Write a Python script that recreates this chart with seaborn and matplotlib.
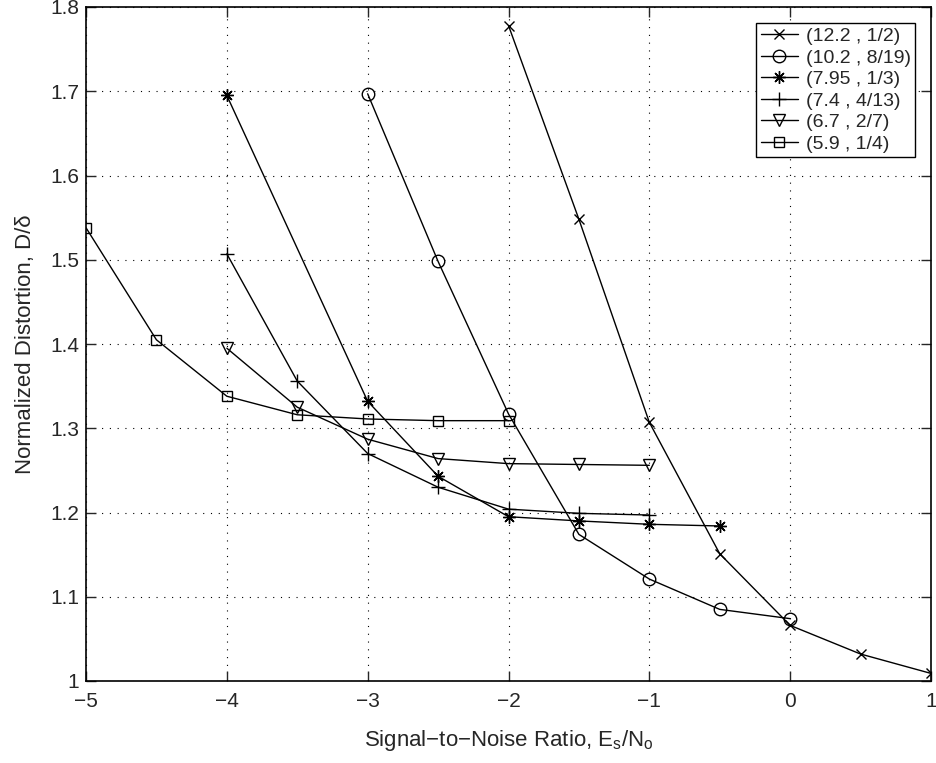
import numpy as np
import pandas as pd
import matplotlib
matplotlib.use("Agg")
import matplotlib.pyplot as plt
import seaborn as sns

labels = ["(12.2 , 1/2)", "(10.2 , 8/19)", "(7.95 , 1/3)", "(7.4 , 4/13)", "(6.7 , 2/7)", "(5.9 , 1/4)"]
x1 = [-2, -1.5, -1, -0.5, 0, 0.5, 1]
y1 = [1.778, 1.548, 1.307, 1.151, 1.066, 1.032, 1.009]
x2 = [-3, -2.5, -2, -1.5, -1, -0.5, 0]
y2 = [1.697, 1.498, 1.317, 1.174, 1.121, 1.085, 1.074]
x3 = [-4, -3, -2.5, -2, -1.5, -1, -0.5]
y3 = [1.695, 1.332, 1.243, 1.195, 1.190, 1.186, 1.184]
x4 = [-4, -3.5, -3, -2.5, -2, -1.5, -1]
y4 = [1.507, 1.356, 1.270, 1.230, 1.204, 1.199, 1.197]
x5 = [-4, -3.5, -3, -2.5, -2, -1.5, -1]
y5 = [1.395, 1.325, 1.287, 1.264, 1.258, 1.257, 1.256]
x6 = [-5, -4.5, -4, -3.5, -3, -2.5, -2]
y6 = [1.538, 1.405, 1.338, 1.316, 1.311, 1.309, 1.309]
xs = [x1, x2, x3, x4, x5, x6]
ys = [y1, y2, y3, y4, y5, y6]
xticks = [-5, -4, -3, -2, -1, 0, 1]
yticks = [1, 1.1, 1.2, 1.3, 1.4, 1.5, 1.6, 1.7, 1.8]

sns.set_theme(style="white")
plt.rcParams['font.family'] = ['Liberation Sans', 'DejaVu Sans']
plt.rcParams['mathtext.fontset'] = 'custom'
plt.rcParams['mathtext.rm'] = 'Liberation Sans'
plt.rcParams['mathtext.it'] = 'Liberation Sans'

fig = plt.figure(figsize=(9.36, 7.63), dpi=100)
ax = fig.add_axes([86/936, 82/763, (931-86)/936, (681-7)/763])

markers = ['x', 'o', (8, 2, 0), '+', 'v', 's']
msizes = [7, 9, 9, 10, 9, 7.5]
for lab, xv, yv, mk, ms in zip(labels, xs, ys, markers, msizes):
    df = pd.DataFrame({"x": xv, "y": yv})
    sns.lineplot(data=df, x="x", y="y", ax=ax, color="black", lw=1.0,
                 marker=mk, markersize=ms, markerfacecolor="none",
                 markeredgecolor="black", markeredgewidth=1.0, label=lab)

ax.set_xlim(-5, 1)
ax.set_ylim(1, 1.8)
ax.set_xticks(xticks)
ax.set_yticks(yticks)
ax.set_xticklabels(["\u2212" + str(-t) if t < 0 else str(t) for t in xticks])
ax.set_yticklabels(["1"] + [f"{t:.1f}" for t in yticks[1:]])
ax.grid(True, color="black", linestyle=(0, (1, 6)), linewidth=0.8)
ax.tick_params(direction="in", length=7, width=1, labelsize=15, top=True, right=True,
               bottom=True, left=True, pad=5)
ax.tick_params(axis="x", pad=8)
for s in ax.spines.values():
    s.set_color("black")
    s.set_linewidth(1.2)
ax.set_xlabel("Signal\u2212to\u2212Noise Ratio, E$_\\mathrm{s}$/N$_\\mathrm{o}$", fontsize=16, labelpad=12)
ax.set_ylabel("Normalized Distortion, D/\u03b4", fontsize=16, labelpad=10)

leg = ax.legend(loc="upper right", fontsize=14, frameon=True, fancybox=False,
                edgecolor="black", handlelength=1.9, handletextpad=0.4,
                labelspacing=0.2, borderpad=0.25, borderaxespad=0.8)
leg.get_frame().set_linewidth(1.0)
leg.get_frame().set_alpha(1)

fig.savefig("out.png", dpi=100)
